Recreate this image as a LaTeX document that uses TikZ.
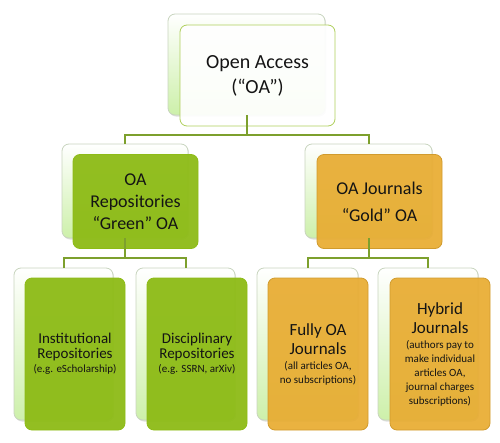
\documentclass[tikz,border=0pt]{standalone}
\usepackage{fontspec}
\setmainfont{Carlito}
\usetikzlibrary{shadows}
\definecolor{oaline}{RGB}{125,160,45}
\definecolor{oagreen}{RGB}{141,187,22}
\definecolor{oagold}{RGB}{232,172,50}
\definecolor{oapale}{RGB}{205,240,170}
\definecolor{oaedge}{RGB}{200,212,190}
\definecolor{oatext}{RGB}{20,20,20}
\newcommand{\bigline}{\fontsize{15}{16}\selectfont}
\newcommand{\jourline}{\fontsize{17}{19}\selectfont}
\newcommand{\noteline}{\fontsize{11}{12}\selectfont}
\tikzset{
  backbox/.style={draw=oaedge, line width=.8pt, rounded corners=7pt, top color=white, bottom color=oapale,
    drop shadow={opacity=.25, shadow xshift=1pt, shadow yshift=-1.5pt}},
  frontbox/.style={rounded corners=7pt, line width=.8pt, align=center, text=oatext, inner sep=2pt},
  whitebox/.style={frontbox, draw=oagreen!70, fill=white, fill opacity=.92, text opacity=1},
  greenbox/.style={frontbox, draw=oagreen, fill=oagreen, fill opacity=.95, text opacity=1},
  goldbox/.style={frontbox, draw=oagold!90!black, fill=oagold, fill opacity=.93, text opacity=1},
  link/.style={draw=oaline, line width=2pt}
}
\begin{document}
\begin{tikzpicture}[x=1pt, y=-1pt]
\useasboundingbox (0,0) rectangle (500,442);
\node[backbox, minimum width=157, minimum height=101] (oaback) at (246.5,64.5) {};
\node[whitebox, minimum width=155, minimum height=101, font=\fontsize{20}{25}\selectfont] (oa) at (257.5,75.5) {Open Access\\(“OA”)};

\node[backbox, minimum width=126, minimum height=94] (repoback) at (125,191) {};
\node[greenbox, minimum width=125, minimum height=94, font=\fontsize{18}{22}\selectfont] (repo) at (135.5,201.5) {OA\\Repositories\\“Green” OA};
\node[backbox, minimum width=127, minimum height=94] (jourback) at (368.5,191) {};
\node[goldbox, minimum width=125, minimum height=94, font=\fontsize{18}{22}\selectfont] (jour) at (379.5,201.5) {OA Journals\\[5pt]“Gold” OA};

\node[backbox, minimum width=99, minimum height=152] (instback) at (63.5,344) {};
\node[greenbox, minimum width=100, minimum height=152, font=\bigline] (inst) at (75,354) {\mbox{}\\[-6pt]Institutional\\[-1pt]Repositories\\[-2pt]\noteline (e.g. eScholarship)};
\node[backbox, minimum width=99, minimum height=152] (discback) at (185.5,344) {};
\node[greenbox, minimum width=100, minimum height=152, font=\bigline] (disc) at (197,354) {\mbox{}\\[-6pt]Disciplinary\\[-1pt]Repositories\\[-2pt]\noteline (e.g. SSRN, arXiv)};

\node[backbox, minimum width=101, minimum height=152] (fullback) at (307.5,344) {};
\node[goldbox, minimum width=100, minimum height=152, font=\jourline] (full) at (318,354) {Fully OA\\Journals\\[-4pt]\noteline (all articles OA,\\[-5pt]\noteline no subscriptions)};
\node[backbox, minimum width=100, minimum height=152] (hybback) at (428,344) {};
\node[goldbox, minimum width=100, minimum height=152, font=\jourline] (hyb) at (440,354) {Hybrid\\Journals\\[-4pt]\noteline (authors pay to\\[-5pt]\noteline make individual\\[-5pt]\noteline articles OA,\\[-5pt]\noteline journal charges\\[-5pt]\noteline subscriptions)};

\draw[link] (oaback.south) -- ++(0,20) -| (repoback.north);
\draw[link] (oaback.south) -- ++(0,20) -| (jourback.north);
\draw[link] (repoback.south) -- ++(0,20) -| (instback.north);
\draw[link] (repoback.south) -- ++(0,20) -| (discback.north);
\draw[link] (jourback.south) -- ++(0,20) -| (fullback.north);
\draw[link] (jourback.south) -- ++(0,20) -| (hybback.north);
\end{tikzpicture}
\end{document}
